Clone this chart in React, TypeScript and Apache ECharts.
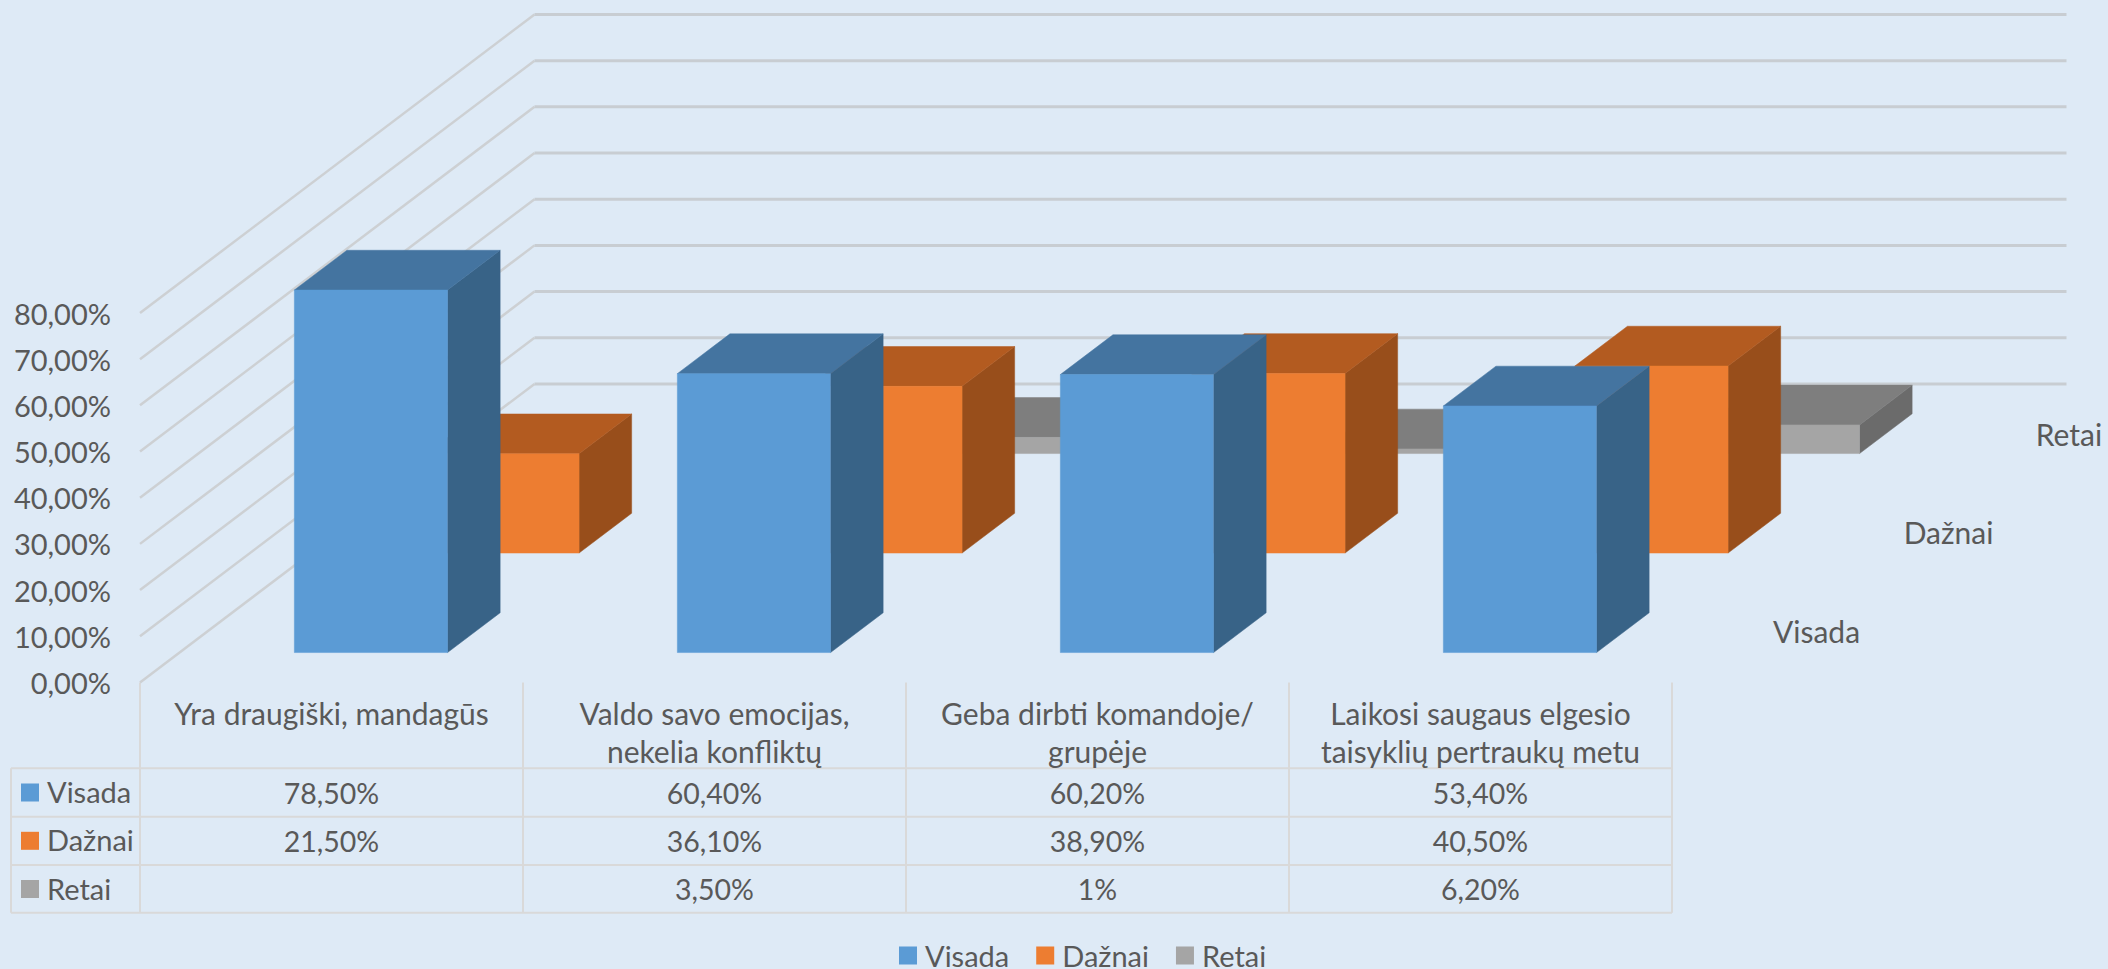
import React, { useEffect, useRef } from "react";
import * as echarts from "echarts";

const categories = [
  "Yra draugiški, mandagūs",
  "Valdo savo emocijas,\nnekelia konfliktų",
  "Geba dirbti komandoje/\ngrupėje",
  "Laikosi saugaus elgesio\ntaisyklių pertraukų metu",
];
const seriesNames = ["Visada", "Dažnai", "Retai"];
const visada = [78.5, 60.4, 60.2, 53.4];
const daznai = [21.5, 36.1, 38.9, 40.5];
const retai: (number | null)[] = [null, 3.5, 1, 6.2];
const yTicks = [0, 10, 20, 30, 40, 50, 60, 70, 80];

const allValues = [visada, daznai, retai];
const faceColors = [
  { front: "#5B9BD5", top: "#4474A0", side: "#386387" },
  { front: "#ED7D31", top: "#B35B20", side: "#984E1B" },
  { front: "#A5A5A5", top: "#7E7E7E", side: "#6B6B6B" },
];
const BG = "#DEEAF6";
const TEXT = "#595959";
const FONT = "Lato";
const FS = 30;
const FS_NUM = 28.5;
const FS_ROW = 29;
const GRID_DIAG = "#CDD0D3";
const GRID_BACK = "#C8CDD2";
const TABLE = "#D9D9D9";

const W = 2108, H = 969;
const gridL = 140, gridT = 313, gridW = 1532, gridH = 369.4;
const rowDX = 131.5, rowDY = 99.5;
const depthShare = 0.4, barShare = 0.4;
const rowLines = [768.3, 816.7, 865, 912.7];
const rowCenters = [792.5, 840.8, 889];
const keyLeft = 21, keySize = 18, rowLabelLeft = 47, tableLeft = 11;
const depthLabelX = [1816.5, 1948.5, 2069];
const depthLabelY = [631, 532, 433.5];

const fmtTable = (v: number) =>
  (Number.isInteger(v) ? String(v) : v.toFixed(2).replace(".", ",")) + "%";

function barSeries(r: number) {
  const c = faceColors[r];
  return {
    type: "custom",
    name: seriesNames[r],
    silent: true,
    clip: false,
    z: 5 - r,
    itemStyle: { color: c.front },
    encode: { x: 0, y: 1 },
    data: allValues[r].map((v, i) => [i, v]),
    renderItem: (_p: any, api: any) => {
      const v = api.value(1);
      if (v == null || isNaN(v)) return undefined;
      const cat = api.value(0);
      const base = api.coord([cat, 0]);
      const top = api.coord([cat, v]);
      const w = api.size([1, 0])[0] * barShare;
      const ox = (r + (1 - depthShare) / 2) * rowDX;
      const oy = (r + (1 - depthShare) / 2) * rowDY;
      const dx = rowDX * depthShare, dy = rowDY * depthShare;
      const l = base[0] - w / 2 + ox, rr = l + w;
      const b = base[1] - oy, t = top[1] - oy;
      const poly = (points: number[][], fill: string) => ({
        type: "polygon",
        shape: { points },
        style: { fill, stroke: fill, lineWidth: 0.5 },
      });
      return {
        type: "group",
        children: [
          poly([[rr, t], [rr + dx, t - dy], [rr + dx, b - dy], [rr, b]], c.side),
          poly([[l, t], [l + dx, t - dy], [rr + dx, t - dy], [rr, t]], c.top),
          poly([[l, t], [rr, t], [rr, b], [l, b]], c.front),
        ],
      };
    },
  };
}

const gridSeries = {
  type: "custom",
  name: "walls",
  silent: true,
  clip: false,
  z: 1,
  encode: { x: 0, y: 1 },
  data: yTicks.map((v) => [0, v]),
  renderItem: (_p: any, api: any) => {
    const p = api.coord([0, api.value(1)]);
    const band = api.size([1, 0])[0];
    const x0 = p[0] - band / 2, y0 = p[1];
    const bx = x0 + rowDX * 3, by = y0 - rowDY * 3;
    return {
      type: "group",
      children: [
        { type: "line", shape: { x1: x0, y1: y0, x2: bx, y2: by }, style: { stroke: GRID_DIAG, lineWidth: 2.5 } },
        { type: "line", shape: { x1: bx, y1: by, x2: bx + band * categories.length, y2: by }, style: { stroke: GRID_BACK, lineWidth: 3 } },
      ],
    };
  },
};

const tableSeries = allValues.map((vals, r) => ({
  type: "custom",
  name: "table" + r,
  silent: true,
  clip: false,
  z: 6,
  encode: { x: 0, y: 1 },
  data: vals.map((v, i) => [i, v]),
  renderItem: (_p: any, api: any) => {
    const v = api.value(1);
    if (v == null || isNaN(v)) return undefined;
    const x = api.coord([api.value(0), 0])[0];
    return {
      type: "text",
      x,
      y: rowCenters[r],
      style: { text: fmtTable(v), fill: TEXT, font: `${FS_NUM}px ${FONT}`, align: "center", verticalAlign: "middle" },
    };
  },
}));

function tableGraphics() {
  const g: any[] = [];
  const line = (x1: number, y1: number, x2: number, y2: number) =>
    g.push({ type: "line", shape: { x1, y1, x2, y2 }, style: { stroke: TABLE, lineWidth: 2 }, silent: true });
  rowLines.forEach((y) => line(tableLeft, y, gridL + gridW, y));
  line(tableLeft, rowLines[0], tableLeft, rowLines[3]);
  for (let i = 0; i <= categories.length; i++) {
    const x = gridL + (gridW / categories.length) * i;
    line(x, gridT + gridH, x, rowLines[3]);
  }
  seriesNames.forEach((name, r) => {
    g.push({
      type: "rect",
      shape: { x: keyLeft, y: rowCenters[r] - keySize / 2, width: keySize, height: keySize },
      style: { fill: faceColors[r].front },
      silent: true,
    });
    g.push({
      type: "text",
      x: rowLabelLeft,
      y: rowCenters[r] - 1,
      style: { text: name, fill: TEXT, font: `${FS_ROW}px ${FONT}`, align: "left", verticalAlign: "middle" },
      silent: true,
    });
    // depth axis labels
    g.push({
      type: "text",
      x: depthLabelX[r],
      y: depthLabelY[r],
      style: { text: name, fill: TEXT, font: `${FS}px ${FONT}`, align: "center", verticalAlign: "middle" },
      silent: true,
    });
  });
  return g;
}

export default function App() {
  const ref = useRef<HTMLDivElement>(null);
  useEffect(() => {
    const chart = echarts.init(ref.current!, undefined, { renderer: "svg" });
    chart.setOption({
      animation: false,
      backgroundColor: BG,
      textStyle: { fontFamily: FONT },
      grid: { left: gridL, top: gridT, width: gridW, height: gridH, containLabel: false },
      xAxis: {
        type: "category",
        data: categories,
        axisLine: { show: false },
        axisTick: { show: false },
        splitLine: { show: false },
        axisLabel: {
          interval: 0,
          margin: 12,
          color: TEXT,
          fontFamily: FONT,
          fontSize: FS,
          lineHeight: 37.5,
          verticalAlign: "top",
          align: "center",
        },
      },
      yAxis: {
        type: "value",
        min: 0,
        max: 80,
        interval: 10,
        axisLine: { show: false },
        axisTick: { show: false },
        splitLine: { show: false },
        axisLabel: {
          margin: 29,
          color: TEXT,
          fontFamily: FONT,
          fontSize: 29,
          formatter: (v: number) => v.toFixed(2).replace(".", ",") + "%",
        },
      },
      legend: {
        left: 899,
        top: 941,
        itemWidth: 18,
        itemHeight: 18,
        itemGap: 27,
        icon: "rect",
        padding: 0,
        selectedMode: false,
        textStyle: { color: TEXT, fontFamily: FONT, fontSize: FS_ROW, lineHeight: 24, height: 24, padding: [0, 0, 0, 3] },
        data: seriesNames.map((name, r) => ({ name, itemStyle: { color: faceColors[r].front } })),
      },
      graphic: tableGraphics(),
      series: [gridSeries, barSeries(2), barSeries(1), barSeries(0), ...tableSeries],
    });
    return () => chart.dispose();
  }, []);
  return <div ref={ref} style={{ position: "fixed", left: 0, top: 0, width: W, height: H }} />;
}
